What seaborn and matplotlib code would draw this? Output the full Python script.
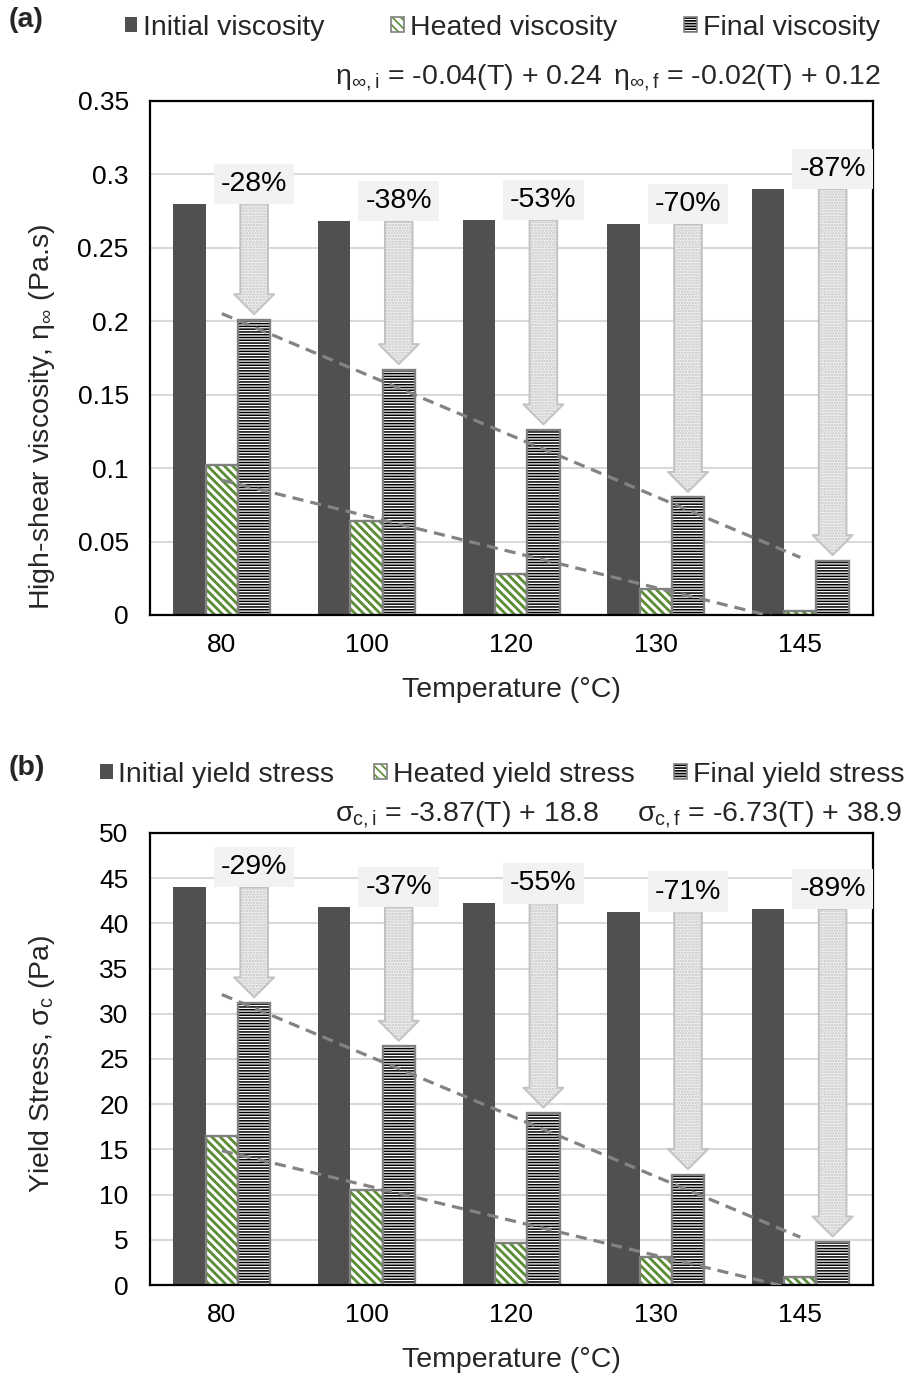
import numpy as np
import pandas as pd
import matplotlib
matplotlib.use("Agg")
import matplotlib.pyplot as plt
import seaborn as sns
from matplotlib.patches import FancyArrowPatch, ArrowStyle, Patch, Rectangle
from matplotlib.legend_handler import HandlerTuple

# ---- data -------------------------------------------------------------
temperatures = ["80", "100", "120", "130", "145"]

visc_initial = [0.280, 0.268, 0.269, 0.266, 0.290]
visc_heated = [0.102, 0.064, 0.028, 0.018, 0.003]
visc_final = [0.201, 0.167, 0.126, 0.080, 0.037]
visc_change = ["-28%", "-38%", "-53%", "-70%", "-87%"]
visc_series = ["Initial viscosity", "Heated viscosity", "Final viscosity"]
visc_ticks = [0, 0.05, 0.1, 0.15, 0.2, 0.25, 0.3, 0.35]
visc_ticklabels = ["0", "0.05", "0.1", "0.15", "0.2", "0.25", "0.3", "0.35"]

ys_initial = [44.0, 41.8, 42.2, 41.3, 41.6]
ys_heated = [16.5, 10.5, 4.7, 3.1, 0.9]
ys_final = [31.2, 26.4, 19.0, 12.2, 4.75]
ys_change = ["-29%", "-37%", "-55%", "-71%", "-89%"]
ys_series = ["Initial yield stress", "Heated yield stress", "Final yield stress"]
ys_ticks = [0, 5, 10, 15, 20, 25, 30, 35, 40, 45, 50]
ys_ticklabels = [str(t) for t in ys_ticks]

# ---- style ------------------------------------------------------------
sns.set_style("white")
plt.rcParams["font.family"] = ["Liberation Sans", "DejaVu Sans"]
plt.rcParams["mathtext.fontset"] = "custom"
plt.rcParams["mathtext.rm"] = "Liberation Sans"
plt.rcParams["mathtext.it"] = "Liberation Sans:italic"
plt.rcParams["hatch.linewidth"] = 1.2

FS_TICK = 19
FS = 20.5
DARK = "#505050"
GREEN = "#5a8c32"
EDGE = "#808080"
GRID = "#d9d9d9"
HATCH_HEAT = "\\\\\\\\"
HATCH_FIN = "------"


def style_bars(ax):
    """Solid initial bars, green diagonal and black horizontal hatches."""
    cont_init, cont_heat, cont_fin = ax.containers[:3]
    for p in cont_init:
        p.set_facecolor(DARK)
        p.set_edgecolor("none")
        p.set_linewidth(0)
    for cont, col, hatch, hlw in ((cont_heat, GREEN, HATCH_HEAT, 2.0),
                                  (cont_fin, "black", HATCH_FIN, 1.1)):
        for p in cont:
            p.set_facecolor("white")
            p.set_edgecolor(col)
            p.set_hatch(hatch)
            p.set_linewidth(0)
            if hasattr(p, "set_hatch_linewidth"):
                p.set_hatch_linewidth(hlw)
            outline = Rectangle(p.get_xy(), p.get_width(), p.get_height(),
                                fill=False, edgecolor=EDGE, linewidth=1.7,
                                zorder=p.get_zorder() + 0.1)
            ax.add_patch(outline)
    return cont_fin


def draw_panel(ax, initial, heated, final, change, names, ticks, ticklabels,
               ylabel, ylabel_y, xlabel_y, label_offset):
    df = pd.DataFrame({
        "Temperature": temperatures * 3,
        "value": list(initial) + list(heated) + list(final),
        "series": [names[0]] * 5 + [names[1]] * 5 + [names[2]] * 5,
    })
    sns.barplot(data=df, x="Temperature", y="value", hue="series",
                order=temperatures, hue_order=names, width=0.67, gap=0,
                errorbar=None, legend=False, saturation=1,
                palette=[DARK, "white", "white"], ax=ax, zorder=2)
    cont_fin = style_bars(ax)

    # linear trends of the heated and final values
    pos = np.arange(len(temperatures))
    for vals in (heated, final):
        sns.regplot(x=pos, y=np.asarray(vals), scatter=False, ci=None,
                    truncate=True, color="#838383", ax=ax,
                    line_kws=dict(lw=2.3, dashes=(3.5, 2.2), zorder=6))

    # reduction arrows from initial to final value
    for i, p in enumerate(cont_fin):
        xc = p.get_x() + p.get_width() / 2
        arrow = FancyArrowPatch(
            posA=(xc, initial[i]), posB=(xc, final[i]),
            arrowstyle=ArrowStyle.Simple(head_length=14.4, head_width=28.8,
                                         tail_width=19.9),
            mutation_scale=1, shrinkA=0, shrinkB=4,
            facecolor="#f4f4f4", edgecolor="#c2c2c2", hatch="......",
            linewidth=1.4, zorder=4)
        ax.add_patch(arrow)
        ax.annotate(change[i], xy=(xc, initial[i]), xytext=(0, label_offset),
                    textcoords="offset points", ha="center", va="center",
                    fontsize=FS, color="black", zorder=7,
                    bbox=dict(boxstyle="square,pad=0.25", fc="#f2f2f2",
                              ec="none"))

    ax.set_xlim(-0.5, len(temperatures) - 0.5)
    ax.set_ylim(ticks[0], ticks[-1])
    ax.set_yticks(ticks)
    ax.set_yticklabels(ticklabels)
    ax.set_xticks(pos)
    ax.set_xticklabels(temperatures)
    ax.tick_params(axis="both", length=0, labelsize=FS_TICK, colors="black")
    ax.tick_params(axis="y", pad=15)
    ax.tick_params(axis="x", pad=13)
    ax.yaxis.grid(True, color=GRID, lw=1.5)
    ax.xaxis.grid(False)
    ax.set_axisbelow(True)
    for s in ax.spines.values():
        s.set_visible(True)
        s.set_color("black")
        s.set_linewidth(1.6)
    ax.set_ylabel(ylabel, fontsize=FS)
    ax.yaxis.set_label_coords(-0.128, ylabel_y)
    ax.set_xlabel("Temperature (°C)", fontsize=FS)
    ax.xaxis.set_label_coords(0.5, xlabel_y)


def legend_handles():
    h1 = Patch(facecolor=DARK, edgecolor="none")
    h2 = (Patch(facecolor="white", edgecolor=GREEN, hatch=HATCH_HEAT, lw=0),
          Patch(facecolor="none", edgecolor=EDGE, lw=1.2))
    h3 = (Patch(facecolor="white", edgecolor="black", hatch=HATCH_FIN, lw=0),
          Patch(facecolor="none", edgecolor=EDGE, lw=1.2))
    return [h1, h2, h3]


fig = plt.figure(figsize=(9.09, 13.77), dpi=100)
ax1 = fig.add_axes([0.1645, 0.5534, 0.7955, 0.3733])
ax2 = fig.add_axes([0.1645, 0.0668, 0.7955, 0.3283])

draw_panel(ax1, visc_initial, visc_heated, visc_final, visc_change,
           visc_series, visc_ticks, visc_ticklabels,
           r"High-shear viscosity, $\mathrm{\eta_{\infty}}$ (Pa.s)",
           0.386, -0.121, 14.4)
draw_panel(ax2, ys_initial, ys_heated, ys_final, ys_change,
           ys_series, ys_ticks, ys_ticklabels,
           r"Yield Stress, $\mathrm{\sigma_{c}}$ (Pa)",
           0.49, -0.137, 14.4)

# legends above each panel
tuple_handler = {tuple: HandlerTuple(ndivide=1, pad=0)}
fig.legend(legend_handles(), visc_series, loc="center left",
           bbox_to_anchor=(0.137, 0.980), ncol=3, frameon=False,
           fontsize=FS, handlelength=0.45, handleheight=0.45,
           handletextpad=0.2, columnspacing=2.35, borderpad=0,
           borderaxespad=0, handler_map=tuple_handler)
fig.legend(legend_handles(), ys_series, loc="center left",
           bbox_to_anchor=(0.110, 0.4372), ncol=3, frameon=False,
           fontsize=FS, handlelength=0.45, handleheight=0.45,
           handletextpad=0.2, columnspacing=1.4, borderpad=0,
           borderaxespad=0, handler_map=tuple_handler)

# trend equations
fig.text(0.3685, 0.9434, r"$\mathrm{\eta_{\infty,i}}$ = -0.04(T) + 0.24",
         fontsize=FS, va="center", ha="left")
fig.text(0.674, 0.9434, r"$\mathrm{\eta_{\infty,f}}$ = -0.02(T) + 0.12",
         fontsize=FS, va="center", ha="left")
fig.text(0.3685, 0.4081, r"$\mathrm{\sigma_{c,i}}$ = -3.87(T) + 18.8",
         fontsize=FS, va="center", ha="left")
fig.text(0.7008, 0.4081, r"$\mathrm{\sigma_{c,f}}$ = -6.73(T) + 38.9",
         fontsize=FS, va="center", ha="left")

# panel tags
fig.text(0.009, 0.9855, "(a)", fontsize=FS, fontweight="bold", va="center")
fig.text(0.009, 0.4423, "(b)", fontsize=FS, fontweight="bold", va="center")

fig.savefig("out.png", dpi=100, facecolor="white")
